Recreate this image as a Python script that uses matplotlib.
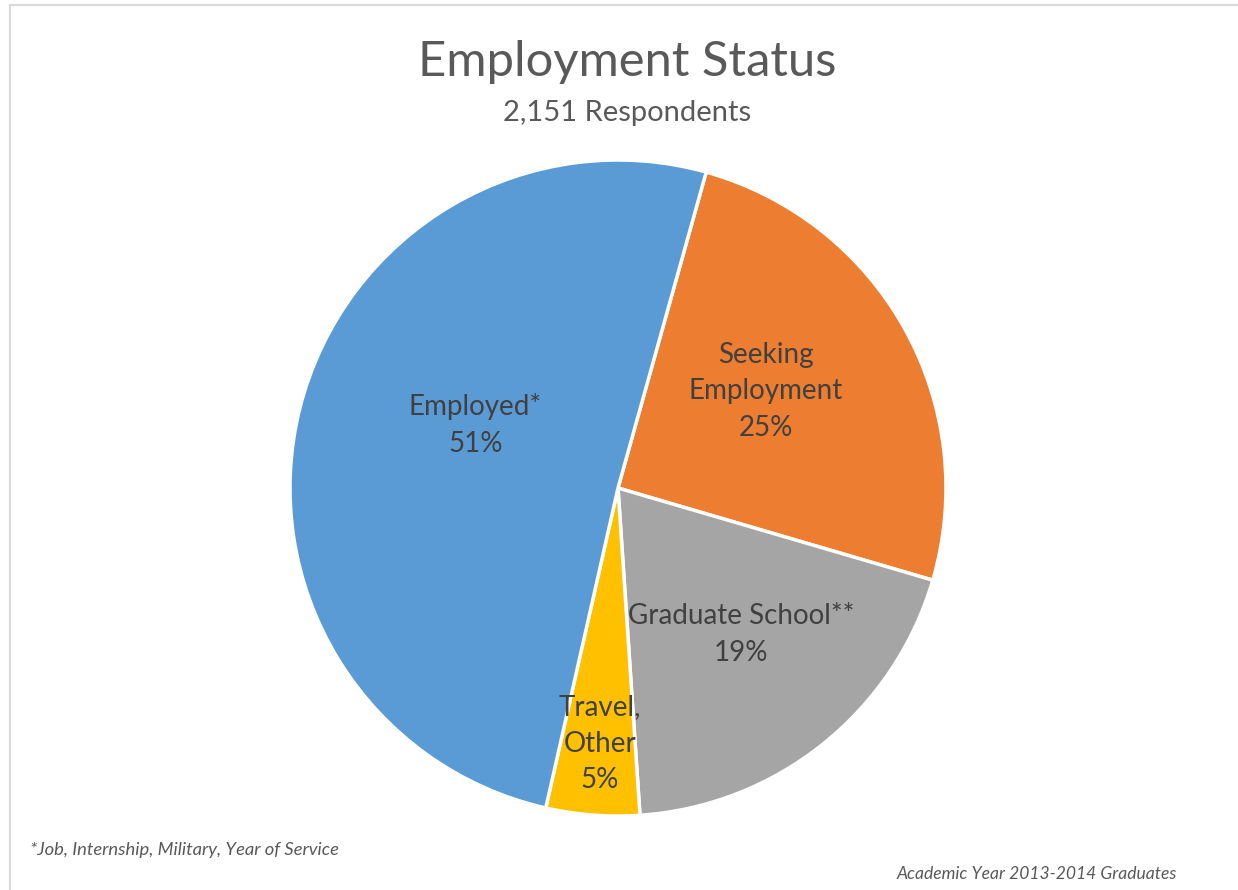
import numpy as np
import matplotlib
matplotlib.use("Agg")
import matplotlib.pyplot as plt
from matplotlib.lines import Line2D

## data (clockwise from the Seeking slice)
categories = ["Seeking\nEmployment", "Graduate School**", "Travel,\nOther", "Employed*"]
shares = [25.2, 19.4, 4.6, 50.8]
pct_labels = ["25%", "19%", "5%", "51%"]
colors = ["#ED7D31", "#A5A5A5", "#FFC000", "#5B9BD5"]

title = "Employment Status"
subtitle = "2,151 Respondents"
note_left = "*Job, Internship, Military, Year of Service"
note_right = "Academic Year 2013-2014 Graduates"

# label spots inside the pie (axes data coords, radius = 1)
label_pos = [(0.45, 0.295), (0.375, -0.447), (-0.055, -0.78), (-0.435, 0.192)]

plt.rcParams['font.family'] = ['Lato', 'DejaVu Sans']

W, H = 1238, 890
fig = plt.figure(figsize=(W / 100, H / 100), dpi=100)
fig.patch.set_facecolor("white")

cx, cy, r = 618, 488, 328
ax = fig.add_axes([(cx - r) / W, (H - cy - r) / H, 2 * r / W, 2 * r / H])
wedges, _ = ax.pie(shares, colors=colors, startangle=74.4, counterclock=False,
                   wedgeprops=dict(edgecolor="white", linewidth=2.5))
ax.set_xlim(-1, 1)
ax.set_ylim(-1, 1)
ax.set_aspect("equal")
ax.axis("off")

for name, pct, (x, y) in zip(categories, pct_labels, label_pos):
    ax.text(x, y, name + "\n" + pct, ha="center", va="center",
            fontsize=20, color="#404040", linespacing=1.5)

fig.text(627 / W, 1 - 62 / H, title, ha="center", va="center",
         fontsize=35.3, color="#595959")
fig.text(627 / W, 1 - 113 / H, subtitle, ha="center", va="center",
         fontsize=21, color="#595959")
fig.text(30 / W, 1 - 850 / H, note_left, ha="left", va="center",
         fontsize=13.2, style="italic", color="#595959")
fig.text(1177 / W, 1 - 874 / H, note_right, ha="right", va="center",
         fontsize=12.6, style="italic", color="#595959")

# thin chart-area frame (top and left edges visible)
fig.add_artist(Line2D([10 / W, 1], [1 - 5 / H, 1 - 5 / H], color="#d9d9d9", lw=1.5))
fig.add_artist(Line2D([10 / W, 10 / W], [0, 1 - 5 / H], color="#d9d9d9", lw=1.5))

fig.savefig("out.png", dpi=100)
plt.close()
